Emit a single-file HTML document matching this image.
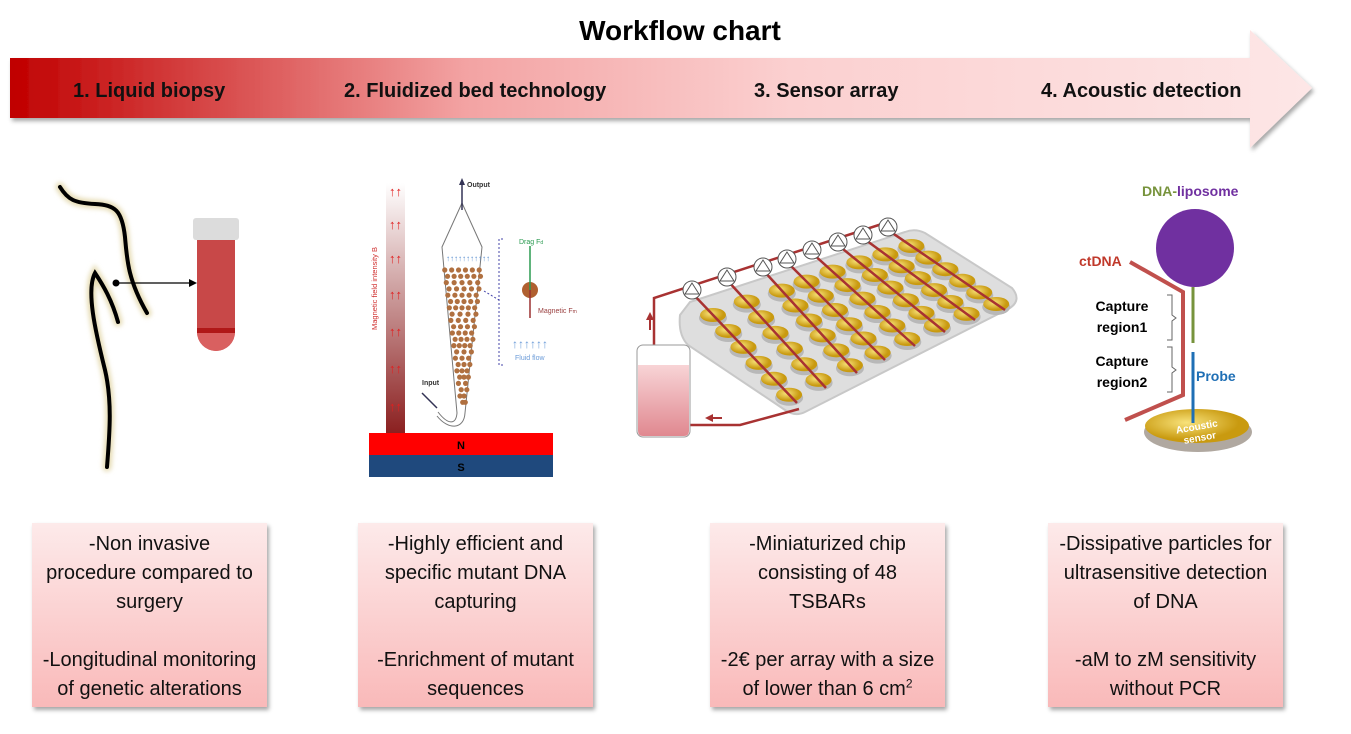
<!DOCTYPE html>
<html><head><meta charset="utf-8"><style>
body{margin:0;width:1351px;height:734px;background:#fff;overflow:hidden;font-family:"Liberation Sans",sans-serif;position:relative}
.box{position:absolute;top:523px;width:235px;height:184px;background:linear-gradient(#fdeaea,#f9b9b9);box-shadow:2px 3px 4px rgba(0,0,0,.35);text-align:center;font-size:20px;line-height:29px;color:#111;padding-top:7px;box-sizing:border-box}
.lbl{position:absolute;font-weight:bold;font-size:20px;top:80px;color:#111}
</style></head><body>
<svg width="1351" height="734" style="position:absolute;left:0;top:0">
<defs>
<linearGradient id="ar" x1="0" x2="1"><stop offset="0" stop-color="#c00000"/><stop offset="0.35" stop-color="#f3a3a3"/><stop offset="0.6" stop-color="#fbd0d0"/><stop offset="1" stop-color="#fde6e6"/></linearGradient>
<linearGradient id="mag" x1="0" y1="0" x2="0" y2="1"><stop offset="0" stop-color="#fff"/><stop offset="1" stop-color="#8b2020"/></linearGradient>
<linearGradient id="jar" x1="0" y1="0" x2="0" y2="1"><stop offset="0" stop-color="#f8d4d6"/><stop offset="1" stop-color="#e08890"/></linearGradient>
<radialGradient id="gold" cx="0.4" cy="0.4"><stop offset="0" stop-color="#f8e27a"/><stop offset="1" stop-color="#c99a10"/></radialGradient>
<filter id="glow"><feGaussianBlur stdDeviation="2.5"/></filter>
<filter id="sh"><feDropShadow dx="2" dy="3" stdDeviation="2" flood-opacity=".35"/></filter>
</defs>
<path d="M10 58 H1250 V30 L1312 88 L1250 148 V118 H10 Z" fill="url(#ar)" filter="url(#sh)"/>
<text x="680" y="40" font-size="28" font-weight="bold" text-anchor="middle" font-family="Liberation Sans">Workflow chart</text>

<g fill="none" stroke-linecap="round">
<g stroke="#e6dcb4" stroke-width="9" filter="url(#glow)">
<path d="M60 187 C68 200 75 203 95 204 C115 205 122 210 125 237 C127 260 128 280 147 313"/>
<path d="M107 467 C110 430 112 400 105 370 C95 330 86 290 95 273 C103 285 112 300 118 322"/>
</g>
<g stroke="#000" stroke-width="4">
<path d="M60 187 C68 200 75 203 95 204 C115 205 122 210 125 237 C127 260 128 280 147 313"/>
<path d="M107 467 C110 430 112 400 105 370 C95 330 86 290 95 273 C103 285 112 300 118 322"/>
</g></g>
<circle cx="116" cy="283" r="3.5"/>
<line x1="116" y1="283" x2="192" y2="283" stroke="#000" stroke-width="1.2"/>
<path d="M197 283 L189 279 L189 287 Z"/>
<path d="M197 238 H235 V332 A19 19 0 0 1 197 332 Z" fill="#c84848"/>
<path d="M197 332 H235 A19 19 0 0 1 197 332 Z" fill="#d96060"/>
<rect x="197" y="328" width="38" height="5" fill="#b01818"/>
<rect x="193" y="218" width="46" height="22" rx="3" fill="#dcdcdc"/>

<rect x="386" y="183" width="19" height="250" fill="url(#mag)"/>
<g fill="#e02020" font-size="13" font-weight="bold">
<text x="389" y="196">↑↑</text><text x="389" y="229">↑↑</text><text x="389" y="263">↑↑</text><text x="389" y="299">↑↑</text><text x="389" y="336">↑↑</text><text x="389" y="373">↑↑</text><text x="389" y="411">↑↑</text></g>
<text transform="translate(377,330) rotate(-90)" font-size="7.5" fill="#d03030">Magnetic field intensity B</text>
<rect x="369" y="433" width="184" height="22" fill="#ff0000"/>
<rect x="369" y="455" width="184" height="22" fill="#1f497d"/>
<text x="461" y="449" font-size="11" font-weight="bold" text-anchor="middle">N</text>
<text x="461" y="471" font-size="11" font-weight="bold" text-anchor="middle">S</text>
<path d="M462 203 L442 247 L457 413 C456 425 448 425 438 412 M462 203 L482 247 L465 413 C464 430 448 430 437 416" fill="none" stroke="#777" stroke-width="1"/>
<line x1="462" y1="210" x2="462" y2="182" stroke="#333355" stroke-width="1.5"/><path d="M462 178 L459 185 L465 185Z" fill="#333355"/>
<text x="467" y="187" font-size="7" font-weight="bold" fill="#333">Output</text>
<text x="422" y="385" font-size="7" font-weight="bold" fill="#333">Input</text>
<line x1="422" y1="393" x2="437" y2="408" stroke="#333355" stroke-width="1.5"/>
<g fill="#b07040" id="beads"></g>
<text x="446" y="261" font-size="8" fill="#5b8fd0">↑↑↑↑↑↑↑↑↑↑↑</text>
<path d="M503 239 H499 V365 H503" fill="none" stroke="#44a" stroke-dasharray="2 2"/>
<line x1="484" y1="291" x2="499" y2="300" stroke="#44a" stroke-dasharray="2 2"/>
<circle cx="530" cy="290" r="8" fill="#b06030"/>
<line x1="530" y1="290" x2="530" y2="246" stroke="#2a9a50" stroke-width="1.5"/>
<line x1="530" y1="290" x2="530" y2="318" stroke="#9a3030" stroke-width="1.5"/>
<text x="519" y="244" font-size="7" fill="#2a9a50">Drag F<tspan font-size="5">d</tspan></text>
<text x="538" y="313" font-size="7" fill="#9a4040">Magnetic F<tspan font-size="5">m</tspan></text>
<text x="512" y="348" font-size="12" fill="#6b9bd8">↑↑↑↑↑↑</text>
<text x="515" y="360" font-size="7" fill="#6b9bd8">Fluid flow</text>

<path d="M690 302 L905 232 Q915 228 925 233 L1012 288 Q1022 300 1010 308 L805 412 Q795 417 785 410 L688 345 Q678 335 680 315 Z" fill="#dedede" stroke="#c8c8c8" stroke-width="2"/>
<g id="wells"></g>
<g id="lines" stroke="#a83232" stroke-width="2.5" fill="none"></g>
<path d="M654 347 V298 L888 222" stroke="#a83232" stroke-width="2.5" fill="none"/>
<path d="M690 425 H740 L799 409" stroke="#a83232" stroke-width="2.5" fill="none"/>
<path d="M650 330 V318" stroke="#a83232" stroke-width="2"/><path d="M650 312 L646 320 L654 320Z" fill="#a83232"/>
<path d="M722 418 H712" stroke="#a83232" stroke-width="2"/><path d="M705 418 L713 414 L713 422Z" fill="#a83232"/>
<rect x="637" y="345" width="53" height="92" rx="6" fill="#fff" stroke="#999"/>
<path d="M638 365 H689 V431 Q689 436 684 436 H643 Q638 436 638 431Z" fill="url(#jar)"/>
<g id="pumps"></g>

<ellipse cx="1198" cy="432" rx="54" ry="20" fill="#b0a8a0"/>
<ellipse cx="1197" cy="426" rx="52" ry="17" fill="url(#gold)"/>
<text x="1197" y="430" font-size="10" font-weight="bold" fill="#fff" text-anchor="middle" transform="rotate(-10 1197 428)">Acoustic</text>
<text x="1200" y="441" font-size="10" font-weight="bold" fill="#fff" text-anchor="middle" transform="rotate(-10 1200 439)">sensor</text>
<polyline points="1130,262 1183,292 1183,395 1125,420" fill="none" stroke="#c0504d" stroke-width="4"/>
<line x1="1193" y1="287" x2="1193" y2="343" stroke="#77933c" stroke-width="3"/>
<line x1="1193" y1="352" x2="1193" y2="423" stroke="#1f6fb5" stroke-width="3"/>
<circle cx="1195" cy="248" r="39" fill="#7030a0"/>
<path d="M1167 295 h5 v20 l4 3 l-4 3 v19 h-5 M1167 347 h5 v20 l4 3 l-4 3 v19 h-5" fill="none" stroke="#666" stroke-width="1"/>
<g font-family="Liberation Sans" font-weight="bold" font-size="14">
<text x="1142" y="196" fill="#77933c">DNA-<tspan fill="#7030a0">liposome</tspan></text>
<text x="1079" y="266" fill="#c0392b">ctDNA</text>
<text x="1122" y="311" text-anchor="middle">Capture</text>
<text x="1122" y="332" text-anchor="middle">region1</text>
<text x="1122" y="366" text-anchor="middle">Capture</text>
<text x="1122" y="387" text-anchor="middle">region2</text>
<text x="1196" y="381" fill="#1f6fb5">Probe</text>
</g>
</svg>

<div class="lbl" style="left:73px">1. Liquid biopsy</div>
<div class="lbl" style="left:344px">2. Fluidized bed technology</div>
<div class="lbl" style="left:754px">3. Sensor array</div>
<div class="lbl" style="left:1041px">4. Acoustic detection</div>

<div class="box" style="left:32px">-Non invasive<br>procedure compared to<br>surgery<br><br>-Longitudinal monitoring<br>of genetic alterations</div>
<div class="box" style="left:358px">-Highly efficient and<br>specific mutant DNA<br>capturing<br><br>-Enrichment of mutant<br>sequences</div>
<div class="box" style="left:710px">-Miniaturized chip<br>consisting of 48<br>TSBARs<br><br>-2€ per array with a size<br>of lower than 6 cm<sup style="font-size:12px;line-height:0">2</sup></div>
<div class="box" style="left:1048px">-Dissipative particles for<br>ultrasensitive detection<br>of DNA<br><br>-aM to zM sensitivity<br>without PCR</div>

<script>
var ns="http://www.w3.org/2000/svg";
function el(p,t,a){var e=document.createElementNS(ns,t);for(var k in a)e.setAttribute(k,a[k]);document.getElementById(p).appendChild(e);return e;}
var pumps=[[692,293],[727,280],[763,270],[787,262],[812,253],[838,245],[863,238],[888,230]];
var ends=[[797,403],[826,388],[857,373],[885,360],[915,346],[945,332],[975,320],[1005,310]];
for(var i=0;i<8;i++){var p=pumps[i],e=ends[i];
 for(var j=0;j<6;j++){var t=0.2+j*0.145;var x=p[0]+(e[0]-p[0])*t,y=p[1]+(e[1]-p[1])*t;
  el("wells","ellipse",{cx:x,cy:y+3,rx:14,ry:8,fill:"#b8b8b8"});
  el("wells","ellipse",{cx:x,cy:y,rx:13,ry:7,fill:"url(#gold)"});}
 el("lines","line",{x1:p[0],y1:p[1],x2:e[0],y2:e[1]});
 el("pumps","circle",{cx:p[0],cy:p[1]-3,r:9,fill:"#fff",stroke:"#555"});
 el("pumps","path",{d:"M"+p[0]+" "+(p[1]-10)+" l-7 11 h14 z",fill:"none",stroke:"#555"});}
for(var r=0;r<22;r++){var y=270+r*6.3;var w=(482-442)*(1-(y-247)/166)/2+6;var n=Math.max(2,Math.round(w/4));for(var k=0;k<n;k++){var x=462-w+6+k*(2*w-12)/Math.max(1,n-1)+((r%2)?2:0);el("beads","circle",{cx:x,cy:y,r:2.6});}}
</script>
</body></html>
